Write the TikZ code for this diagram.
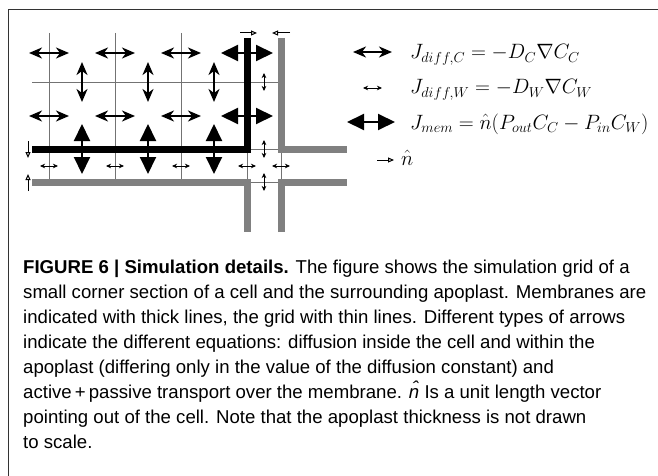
\documentclass[tikz,border=0pt]{standalone}
\usepackage{fontspec}
\newfontfamily\capfont{Liberation Sans}
\usetikzlibrary{arrows.meta}
\tikzset{
  gridline/.style={draw=black!55, line width=0.8pt},
  cellmem/.style={draw=black, line width=7pt, line join=miter},
  nbmem/.style={draw=black!50, line width=7pt, line join=miter},
  diffc/.style={line width=1.8pt, {Stealth[length=13pt,width=11pt,inset=4pt]}-{Stealth[length=13pt,width=11pt,inset=4pt]}},
  diffw/.style={line width=0.7pt, {Stealth[length=5pt,width=4.5pt,inset=1.5pt]}-{Stealth[length=5pt,width=4.5pt,inset=1.5pt]}},
  memarr/.style={line width=2pt, {Triangle[length=17pt,width=16pt]}-{Triangle[length=17pt,width=16pt]}},
  normarr/.style={line width=1pt, -{Triangle[open,length=6pt,width=5pt]}},
  eq/.style={anchor=base west, inner sep=0pt, font=\fontsize{20.5}{24}\selectfont},
  capline/.style={anchor=base west, inner sep=0pt, font=\capfont\fontsize{18.6}{25}\selectfont},
  frameline/.style={draw=black!80, line width=1pt}
}
\begin{document}
\begin{tikzpicture}[x=1pt,y=-1pt]
\useasboundingbox (0,0) rectangle (658,476);
\draw[frameline] (658,10) -- (8,10) -- (8,476);

% grid
\foreach \x in {49,115,181} \draw[gridline] (\x,33) -- (\x,182);
\draw[gridline] (32,82) -- (281,82);
\draw[gridline] (247,149) rectangle (281,182);

% membranes
\draw[cellmem] (247,38) -- (247,149) -- (32,149);
\draw[nbmem] (281,38) -- (281,149) -- (347,149);
\draw[nbmem] (32,182) -- (247,182) -- (247,232);
\draw[nbmem] (281,232) -- (281,182) -- (347,182);

% diffusion inside the cell
\foreach \x in {49,115,181} \foreach \y in {53,116}
  \draw[diffc] (\x-20,\y) -- (\x+20,\y);
\foreach \x in {82,148,214}
  \draw[diffc] (\x,62) -- (\x,102);

% membrane transport
\foreach \y in {53,116}
  \draw[memarr] (221,\y) -- (273,\y);
\foreach \x in {82,148,214}
  \draw[memarr] (\x,124) -- (\x,174);

% apoplast diffusion
\foreach \x in {49,115,181,247,281}
  \draw[diffw] (\x-9,166) -- (\x+9,166);
\foreach \y in {82,149,182}
  \draw[diffw] (264,\y-9) -- (264,\y+9);

% normal vectors
\draw[normarr] (240,33) -- (257,33);
\draw[normarr] (290,33) -- (272,33);
\draw[normarr] (28,141) -- (28,158);
\draw[normarr] (28,191) -- (28,174);

% legend
\draw[diffc] (353,52) -- (392,52);
\node[eq] (eqc) at (410,59) {$J_{diff,C} = -D_C\nabla C_C$};
\draw[diffw] (363,88) -- (382,88);
\node[eq] (eqw) at (410,94) {$J_{diff,W} = -D_W\nabla C_W$};
\draw[memarr] (347,122) -- (395,122);
\node[eq] (eqm) at (410,129) {$J_{mem} = \hat{n}(P_{out}C_C - P_{in}C_W)$};
\draw[normarr] (377,160) -- (394,160);
\node[eq] (eqn) at (401,165) {$\hat{n}$};

% caption
\node[capline] (cap1) at (23,273) {\textbf{FIGURE 6 | Simulation details.} The figure shows the simulation grid of a};
\node[capline] (cap2) at (23,298) {small corner section of a cell and the surrounding apoplast. Membranes are};
\node[capline] (cap3) at (23,323) {indicated with thick lines, the grid with thin lines. Different types of arrows};
\node[capline] (cap4) at (23,348) {indicate the different equations: diffusion inside the cell and within the};
\node[capline] (cap5) at (23,373) {apoplast (differing only in the value of the diffusion constant) and};
\node[capline] (cap6) at (23,398) {active\,+\,passive transport over the membrane. {\itshape\^{n}} Is a unit length vector};
\node[capline] (cap7) at (23,423) {pointing out of the cell. Note that the apoplast thickness is not drawn};
\node[capline] (cap8) at (23,448) {to scale.};
\end{tikzpicture}
\end{document}
